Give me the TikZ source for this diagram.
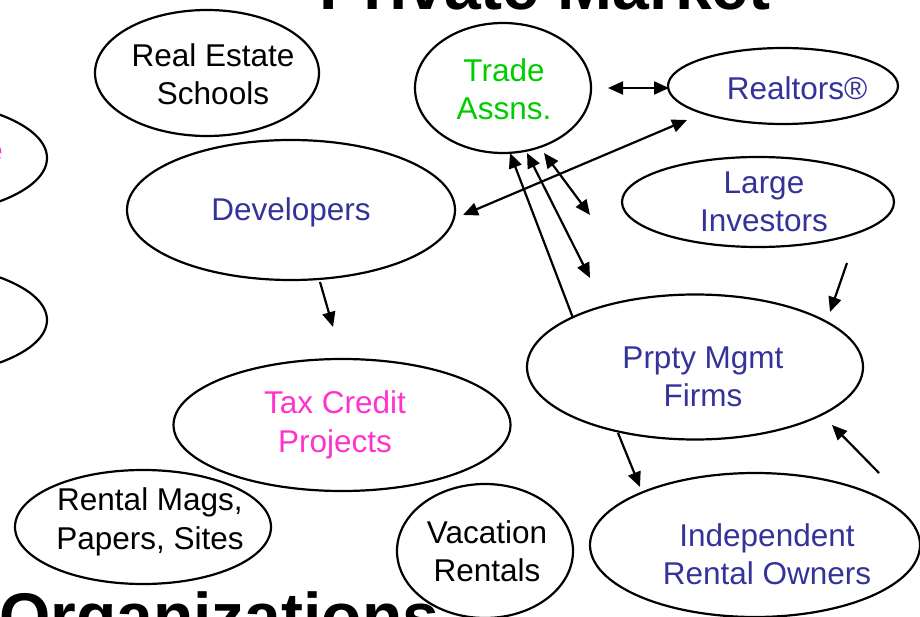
\documentclass[tikz,border=0pt]{standalone}
\usepackage{fontspec}
\setmainfont{Liberation Sans}
\usetikzlibrary{shapes.geometric,arrows.meta}
\definecolor{navy}{RGB}{51,51,153}
\definecolor{tgreen}{RGB}{0,204,0}
\definecolor{tpink}{RGB}{255,51,204}
\tikzset{
  oval/.style={draw=black, line width=2.2pt, ellipse, inner sep=0pt, outer sep=0pt},
  txt/.style={align=center, inner sep=0pt, font=\fontsize{31.5}{38.5}\selectfont},
  conn/.style={line width=2.2pt, -{Triangle[length=15pt,width=13pt]}},
  dconn/.style={line width=2.2pt, {Triangle[length=15pt,width=13pt]}-{Triangle[length=15pt,width=13pt]}},
  big/.style={inner sep=0pt, font=\fontsize{66}{66}\selectfont\bfseries}
}
\begin{document}
\begin{tikzpicture}[x=1pt,y=-1pt]
\useasboundingbox (0,0) rectangle (920,617);
\clip (0,0) rectangle (920,617);
% titles
\node[big, anchor=base] (title) at (545,10) {Private Market};
\node[big, anchor=base west] (orgs) at (-1,639) {Organizations};
% ellipses
\node[oval, minimum width=224pt, minimum height=126pt] (rs) at (207,73) {};
\node[oval, minimum width=176pt, minimum height=130pt] (ta) at (503,88) {};
\node[oval, minimum width=230pt, minimum height=76pt] (re) at (783,86) {};
\node[oval, minimum width=272pt, minimum height=90pt] (li) at (758,202) {};
\node[oval, minimum width=328pt, minimum height=140pt] (dv) at (291,210) {};
\node[oval, minimum width=294pt, minimum height=118pt] (l1) at (-100,158) {};
\node[oval, minimum width=294pt, minimum height=116pt] (l2) at (-100,320) {};
\node[oval, minimum width=337pt, minimum height=132pt] (tc) at (342,425) {};
\node[oval, minimum width=336pt, minimum height=145pt] (pm) at (695,367) {};
\node[oval, minimum width=256pt, minimum height=114pt] (rm) at (143,527) {};
\node[oval, minimum width=176pt, minimum height=134pt] (vr) at (485,551) {};
\node[oval, minimum width=330pt, minimum height=144pt] (io) at (755,545) {};
% texts
\node[txt] (rsT) at (213,74) {Real Estate\\Schools};
\node[txt, text=tgreen] (taT) at (504,89) {Trade\\Assns.};
\node[txt, text=navy] (reT) at (797,88) {Realtors®};
\node[txt, text=navy] (liT) at (764,202) {Large\\Investors};
\node[txt, text=navy] (dvT) at (291,212) {Developers};
\node[txt, text=tpink, anchor=east] (l1T) at (3,153) {e};
\node[txt, text=tpink] (tcT) at (335,425) {Tax Credit\\Projects};
\node[txt, text=navy] (pmT) at (703,377) {Prpty Mgmt\\Firms};
\node[txt] (rmT) at (150,522) {Rental Mags,\\Papers, Sites};
\node[txt] (vrT) at (487,551) {Vacation\\Rentals};
\node[txt, text=navy] (ioT) at (767,554) {Independent\\Rental Owners};
% connector end points
\coordinate (a1s) at (608,88);  \coordinate (a1e) at (669,88);
\coordinate (a2s) at (687,120); \coordinate (a2e) at (463,215);
\coordinate (a3s) at (544,153); \coordinate (a3e) at (590,215);
\coordinate (a4s) at (527,153); \coordinate (a4e) at (590,278);
\coordinate (a5s) at (573,318); \coordinate (a5e) at (510,153);
\coordinate (a6s) at (320,282); \coordinate (a6e) at (333,327);
\coordinate (a7s) at (847,263); \coordinate (a7e) at (830,312);
\coordinate (a8s) at (879,473); \coordinate (a8e) at (832,425);
\coordinate (a9s) at (618,433); \coordinate (a9e) at (640,487);
% connectors
\draw[dconn] (a1s) -- (a1e);
\draw[dconn] (a2s) -- (a2e);
\draw[dconn] (a3s) -- (a3e);
\draw[dconn] (a4s) -- (a4e);
\draw[conn] (a5s) -- (a5e);
\draw[conn] (a6s) -- (a6e);
\draw[conn] (a7s) -- (a7e);
\draw[conn] (a8s) -- (a8e);
\draw[conn] (a9s) -- (a9e);
\end{tikzpicture}
\end{document}
